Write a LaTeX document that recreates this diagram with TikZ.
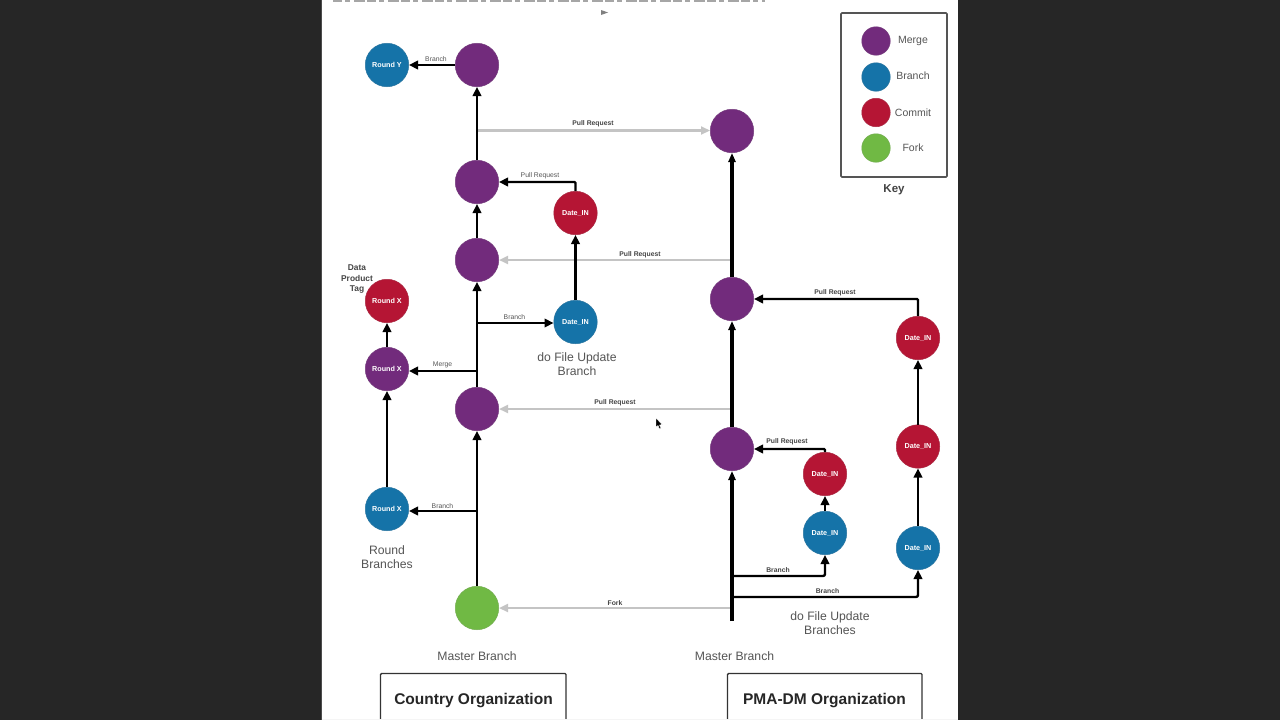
\documentclass[tikz,border=0pt]{standalone}
\usepackage{fontspec}
\setmainfont{Liberation Sans}
\usetikzlibrary{arrows.meta}
\definecolor{cmerge}{HTML}{722B7C}
\definecolor{cbranch}{HTML}{1573A8}
\definecolor{ccommit}{HTML}{B51534}
\definecolor{cfork}{HTML}{70B944}
\definecolor{ctxt}{HTML}{555555}
\definecolor{cgrey}{HTML}{C4C4C4}
\definecolor{cbox}{HTML}{555555}
\tikzset{
 x=1pt,y=-1pt,
 dot/.style={circle,inner sep=0pt,minimum size=43.5pt,font=\fontsize{7.2}{8}\bfseries\selectfont,text=white,draw=#1!80!gray,line width=.5pt,fill=#1},
 keydot/.style={circle,inner sep=0pt,minimum size=28.5pt,draw=#1!80!gray,line width=.5pt,fill=#1},
 ar/.style={draw=black,line width=2.4pt,-{Triangle[length=9pt,width=8.5pt]}},
 arthick/.style={draw=black,line width=3.8pt,-{Triangle[length=9pt,width=7pt]}},
 pr/.style={draw=cgrey,line width=2.2pt,-{Triangle[length=9pt,width=8pt]}},
 lab/.style={font=\fontsize{6.8}{8}\selectfont,text=ctxt,inner sep=0pt,yshift=-.6pt},
 labb/.style={font=\fontsize{6.8}{8}\bfseries\selectfont,text=ctxt!80!black,inner sep=0pt,yshift=-.6pt},
 captxt/.style={font=\fontsize{12.2}{14.6}\selectfont,text=ctxt,align=center,inner sep=0pt},
 keytxt/.style={font=\fontsize{10.5}{13}\selectfont,text=ctxt,inner sep=0pt},
 orgbox/.style={draw=black!80,line width=1.4pt,rounded corners=1pt,fill=white,inner sep=0pt},
 orgtxt/.style={font=\fontsize{15.5}{18}\bfseries\selectfont,text=black!85,inner sep=0pt},
}
\begin{document}
\begin{tikzpicture}
\useasboundingbox (0,0) rectangle (1280,720);
\fill[black!85!white] (0,0) rectangle (1280,720);
\fill[white] (322,0) rectangle (958,720);
\draw[black!70,line width=1pt] (321.5,0) -- (321.5,720);
% remains of a heading cut off by the top edge
\draw[gray!70,line width=2.5pt,dash pattern=on 9pt off 3pt on 5pt off 4pt on 11pt off 2pt] (333,.8) -- (765,.8);
\fill[gray] (601,10) -- (608,12.5) -- (601,15) -- cycle;
% Left column
\node[dot=cfork] (fork) at (477,608) {};
\node[dot=cmerge] (m1) at (477,409) {};
\node[dot=cmerge] (m2) at (477,260) {};
\node[dot=cmerge] (m3) at (477,182) {};
\node[dot=cmerge] (m4) at (477,65) {};
\node[dot=cbranch] (ry) at (387,65) {Round Y};
\node[dot=ccommit] (dc) at (575.5,213) {Date\_IN};
\node[dot=cbranch] (db) at (575.5,322) {Date\_IN};
\node[dot=ccommit] (rc) at (387,301) {Round X};
\node[dot=cmerge] (rm) at (387,369) {Round X};
\node[dot=cbranch] (rb) at (387,509) {Round X};
% Right column
\node[dot=cmerge] (p1) at (732,449) {};
\node[dot=cmerge] (p2) at (732,299) {};
\node[dot=cmerge] (p3) at (732,131) {};
\node[dot=ccommit] (c1) at (825,474) {Date\_IN};
\node[dot=cbranch] (b1) at (825,533) {Date\_IN};
\node[dot=ccommit] (c2) at (918,338) {Date\_IN};
\node[dot=ccommit] (c3) at (918,446.5) {Date\_IN};
\node[dot=cbranch] (b2) at (918,548) {Date\_IN};
% junctions
\coordinate (jbase) at (732,621);
\coordinate (jf) at (732,608);
\coordinate (j1) at (732,576);
\coordinate (j2) at (732,597);
\coordinate (j3) at (732,409);
\coordinate (j4) at (732,260);
\coordinate (jp) at (477,130.5);
\coordinate (jb) at (477,323);
\coordinate (jm) at (477,371);
\coordinate (jr) at (477,511);
\coordinate (up1) at (825,449);
\coordinate (up2) at (918,299);
\coordinate (upc) at (575.5,182);
% Pull requests
\draw[pr] (jp) -- (p3.west |- jp);
\draw[pr] (j4) -- (m2);
\draw[pr] (j3) -- (m1);
\draw[pr] (jf) -- (fork);
% Left connectors
\draw[ar] (fork) -- (m1);
\draw[ar] (m1) -- (m2);
\draw[ar] (m2) -- (m3);
\draw[ar] (m3) -- (m4);
\draw[ar] (m4) -- (ry);
\draw[ar] (db) -- (dc);
\draw[ar,rounded corners=1pt] (dc.north) -- (upc) -- (m3);
\draw[ar] (jb) -- (db.west |- jb);
\draw[ar] (jm) -- (rm.east |- jm);
\draw[ar] (rm) -- (rc);
\draw[ar] (rb) -- (rm);
\draw[ar] (jr) -- (rb.east |- jr);
% Right connectors
\draw[arthick] (jbase) -- (p1);
\draw[arthick] (p1) -- (p2);
\draw[arthick] (p2) -- (p3);
\draw[ar,rounded corners=1pt] (c1.north) -- (up1) -- (p1);
\draw[ar] (b1) -- (c1);
\draw[ar,rounded corners=2pt] (j1) -- (825,576) -- (b1);
\draw[ar,rounded corners=2pt] (j2) -- (918,597) -- (b2);
\draw[ar] (b2) -- (c3);
\draw[ar] (c3) -- (c2);
\draw[ar,rounded corners=1pt] (c2.north) -- (up2) -- (p2);
% labels
\node[lab] (l1) at (436,58.5) {Branch};
\node[labb] (l2) at (593,123.5) {Pull Request};
\node[lab] (l3) at (540,175.5) {Pull Request};
\node[labb] (l4) at (640,254) {Pull Request};
\node[lab] (l5) at (514.5,316) {Branch};
\node[lab] (l6) at (442.5,364.5) {Merge};
\node[labb] (l7) at (615,402) {Pull Request};
\node[lab] (l8) at (442.5,505) {Branch};
\node[labb] (l9) at (615,602) {Fork};
\node[labb] (l10) at (835,292.5) {Pull Request};
\node[labb] (l11) at (787,441.5) {Pull Request};
\node[labb] (l12) at (778,569) {Branch};
\node[labb] (l13) at (827.5,590) {Branch};
\node[labb,align=center,font=\fontsize{8.4}{10.3}\bfseries\selectfont] (tag) at (357,278.5) {Data\\Product\\Tag};
\node[captxt] (c-a) at (577,364) {do File Update\\Branch};
\node[captxt] (c-b) at (387,557) {Round\\Branches};
\node[captxt] (c-c) at (830,623) {do File Update\\Branches};
\node[captxt] (c-d) at (477,656) {Master Branch};
\node[captxt] (c-e) at (734.5,656) {Master Branch};
% orgs
\node[orgbox,minimum width=185.5pt,minimum height=60pt] (o1) at (473.25,703.5) {};
\node[orgtxt] (o1t) at (473.5,701) {Country Organization};
\node[orgbox,minimum width=194.5pt,minimum height=60pt] (o2) at (824.75,703.5) {};
\node[orgtxt] (o2t) at (824.5,701) {PMA-DM Organization};
\fill[gray!8] (322,719) rectangle (958,720);
% Key
\node[draw=cbox,line width=1.6pt,rounded corners=1pt,minimum width=106pt,minimum height=164pt,inner sep=0pt] (key) at (894,95) {};
\node[keydot=cmerge] (k1) at (876,41) {};
\node[keydot=cbranch] (k2) at (876,77) {};
\node[keydot=ccommit] (k3) at (876,112.5) {};
\node[keydot=cfork] (k4) at (876,148) {};
\node[keytxt] (t1) at (913,41) {Merge};
\node[keytxt] (t2) at (913,76) {Branch};
\node[keytxt] (t3) at (913,112.5) {Commit};
\node[keytxt] (t4) at (913,147.5) {Fork};
\node[font=\fontsize{11.5}{13}\bfseries\selectfont,text=ctxt!80!black,inner sep=0pt] (kt) at (894,189.5) {Key};
% cursor
\fill[black,draw=white,line width=.4pt] (656,418) -- (656,427) -- (658,425.5) -- (659.5,429) -- (661,428.3) -- (659.5,425) -- (662,424.5) -- cycle;
\end{tikzpicture}
\end{document}
